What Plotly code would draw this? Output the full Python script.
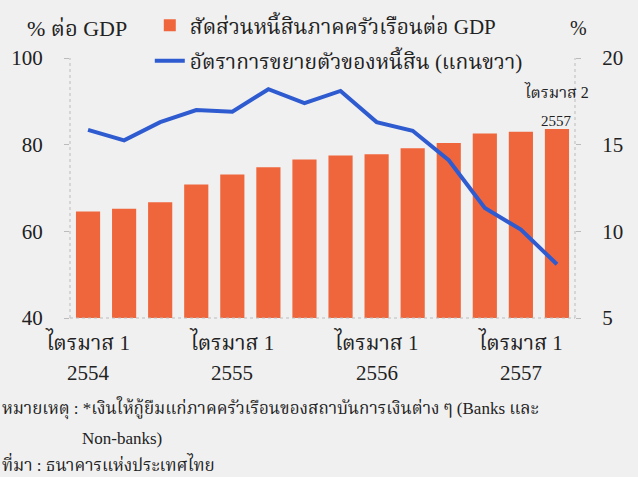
import plotly.graph_objects as go

# Quarterly periods (Thai Buddhist-era years), Q1 2554 .. Q2 2557
quarters = ["Q1/2554", "Q2/2554", "Q3/2554", "Q4/2554",
            "Q1/2555", "Q2/2555", "Q3/2555", "Q4/2555",
            "Q1/2556", "Q2/2556", "Q3/2556", "Q4/2556",
            "Q1/2557", "Q2/2557"]

# Household debt to GDP (%), left axis
debt_to_gdp = [64.6, 65.2, 66.7, 70.8, 73.1, 74.8, 76.6,
               77.5, 77.8, 79.2, 80.4, 82.6, 83.0, 83.6]

# Growth of household debt (%), right axis
debt_growth = [15.85, 15.25, 16.3, 17.0, 16.9, 18.2, 17.4,
               18.1, 16.3, 15.8, 14.1, 11.35, 10.1, 8.1]

# Labelled quarters on the category axis, with the year shown underneath
tick_vals = ["Q1/2554", "Q1/2555", "Q1/2556", "Q1/2557"]
tick_text = ["ไตรมาส 1", "ไตรมาส 1", "ไตรมาส 1", "ไตรมาส 1"]
tick_years = ["2554", "2555", "2556", "2557"]

bar_name = "สัดส่วนหนี้สินภาคครัวเรือนต่อ GDP"
line_name = "อัตราการขยายตัวของหนี้สิน (แกนขวา)"

BAR_COLOR = "#f0663c"
LINE_COLOR = "#2f5bd0"
BG = "#f0f0f0"
TEXT = "#222222"
FONT = "Liberation Serif, Noto Serif Thai, Noto Sans Thai, serif"

fig = go.Figure()
fig.add_trace(go.Bar(x=quarters, y=debt_to_gdp, name=bar_name,
                     legendgroup="ratio",
                     marker=dict(color=BAR_COLOR, line=dict(width=0)),
                     yaxis="y"))
fig.add_trace(go.Scatter(x=quarters, y=debt_growth, name=line_name,
                         legendgroup="growth",
                         mode="lines", line=dict(color=LINE_COLOR, width=4),
                         yaxis="y2"))

axis_common = dict(showgrid=False, zeroline=False, showline=False,
                   ticks="outside", ticklen=5, tickcolor="#bbbbbb",
                   ticklabelstandoff=17,
                   tickfont=dict(size=21, color=TEXT, family=FONT))

fig.update_layout(
    width=638, height=477,
    margin=dict(l=70, r=63, t=58, b=159, autoexpand=False),
    paper_bgcolor=BG, plot_bgcolor=BG,
    font=dict(family=FONT, color=TEXT),
    bargap=0.33,
    showlegend=True,
    legend=dict(x=0.158, y=1.203, xanchor="left", yanchor="top",
                bgcolor="rgba(0,0,0,0)", font=dict(size=21),
                traceorder="grouped", itemwidth=30, tracegroupgap=5),
    xaxis=dict(type="category", tickmode="array", tickvals=tick_vals,
               ticktext=tick_text, showgrid=False, showline=False,
               ticks="", ticklabelstandoff=10,
               tickfont=dict(size=21, color=TEXT, family=FONT),
               range=[-0.5, 13.5]),
    yaxis=dict(range=[40, 100], tickvals=[40, 60, 80, 100], **axis_common),
    yaxis2=dict(range=[5, 20], tickvals=[5, 10, 15, 20], overlaying="y",
                side="right", **axis_common),
)

# Dotted axis lines
for x0, y0, x1, y1 in [(0, 0, 0, 1), (1, 0, 1, 1), (0, 0, 1, 0)]:
    fig.add_shape(type="line", xref="paper", yref="paper",
                  x0=x0, y0=y0, x1=x1, y1=y1,
                  line=dict(color="#bbbbbb", width=1, dash="dot"))

annotations = [
    dict(text="% ต่อ GDP", x=-0.09, y=1.115, xref="paper", yref="paper",
         xanchor="left", yanchor="middle", showarrow=False,
         font=dict(size=22)),
    dict(text="%", x=0.986, y=1.115, xref="paper", yref="paper",
         xanchor="left", yanchor="middle", showarrow=False,
         font=dict(size=20)),
    dict(text="ไตรมาส 2", x=13, y=0.873, xref="x", yref="paper",
         xanchor="center", yanchor="middle", showarrow=False,
         font=dict(size=16)),
    dict(text="2557", x=13, y=0.758, xref="x", yref="paper",
         xanchor="center", yanchor="middle", showarrow=False,
         font=dict(size=15)),
    dict(text="หมายเหตุ : *เงินให้กู้ยืมแก่ภาคครัวเรือนของสถาบันการเงินต่าง ๆ (Banks และ",
         x=-0.138, y=-0.345, xref="paper", yref="paper", xanchor="left",
         yanchor="middle", showarrow=False, font=dict(size=17)),
    dict(text="Non-banks)", x=0.02, y=-0.462, xref="paper", yref="paper",
         xanchor="left", yanchor="middle", showarrow=False,
         font=dict(size=17)),
    dict(text="ที่มา : ธนาคารแห่งประเทศไทย", x=-0.138, y=-0.563,
         xref="paper", yref="paper", xanchor="left", yanchor="middle",
         showarrow=False, font=dict(size=17)),
]
for q, yr in zip(tick_vals, tick_years):
    annotations.append(dict(text=yr, x=q, y=-0.213, xref="x", yref="paper",
                            xanchor="center", yanchor="middle",
                            showarrow=False, font=dict(size=21)))
fig.update_layout(annotations=annotations)

fig.write_html("out.html")
